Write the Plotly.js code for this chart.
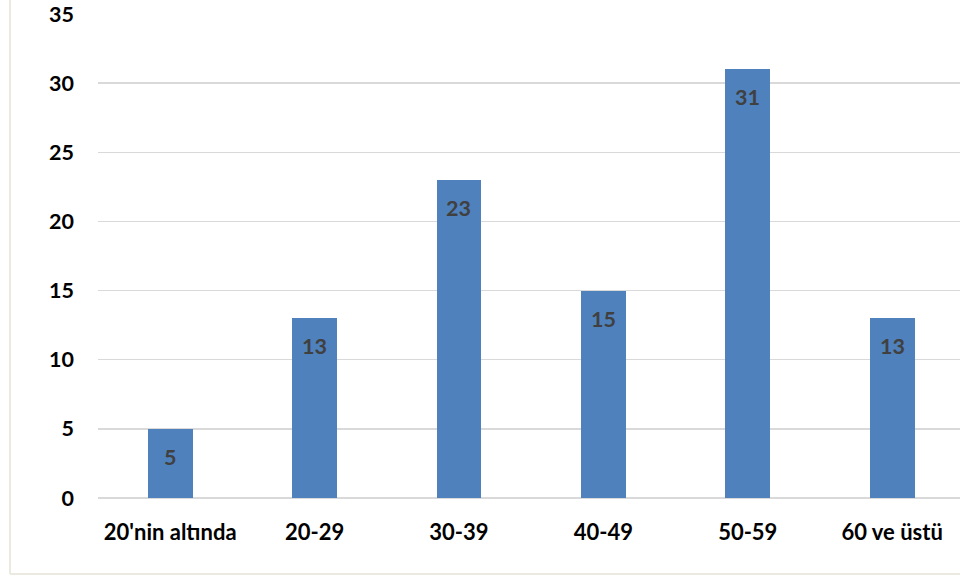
<!DOCTYPE html>
<html>
<head>
<meta charset="utf-8">
<script src="https://cdn.plot.ly/plotly-3.0.1.min.js"></script>
<style>html,body{margin:0;padding:0;background:#fff;}#chart{width:960px;height:578px;}</style>
</head>
<body>
<div id="chart"></div>
<script>
const categories = ["20'nin altında", "20-29", "30-39", "40-49", "50-59", "60 ve üstü"];
const values = [5, 13, 23, 15, 31, 13];
const yTicks = [0, 5, 10, 15, 20, 25, 30, 35];

const FONT = 'Lato, "Open Sans", sans-serif';
const xs = categories.map((_, i) => i);

const trace = {
  type: 'bar',
  x: xs,
  y: values,
  width: 0.31,
  marker: { color: '#4F81BD', line: { width: 0 } },
  hoverinfo: 'none'
};

const annotations = values.map((v, i) => ({
  x: i, y: v, xref: 'x', yref: 'y',
  text: String(v), showarrow: false,
  yanchor: 'middle', yshift: -28,
  font: { family: FONT, size: 21.5, color: '#404040', weight: 'bold' }
}));

const layout = {
  width: 960, height: 578,
  margin: { l: 98, r: 0, t: 14, b: 80 },
  paper_bgcolor: '#ffffff', plot_bgcolor: '#ffffff',
  showlegend: false,
  bargap: 0,
  annotations: annotations,
  xaxis: {
    range: [-0.5, 5.47],
    tickmode: 'array', tickvals: xs, ticktext: categories,
    showgrid: false, zeroline: false, showline: false,
    ticks: '', ticklabelstandoff: 19,
    tickfont: { family: FONT, size: 22, color: '#000000', weight: 'bold' },
    fixedrange: true
  },
  yaxis: {
    range: [0, 35],
    tickmode: 'array', tickvals: yTicks, ticktext: yTicks.map(String),
    showgrid: true, gridcolor: '#d9d9d9', gridwidth: 1.5,
    zeroline: true, zerolinecolor: '#d9d9d9', zerolinewidth: 1.5,
    showline: false, ticks: '', ticklabelstandoff: 23,
    tickfont: { family: FONT, size: 21.5, color: '#000000', weight: 'bold' },
    fixedrange: true
  },
  shapes: [
    { type: 'line', xref: 'paper', yref: 'paper', x0: -88/862, x1: -88/862, y0: 1 + 14/484, y1: -76/484, line: { color: '#ECEAE0', width: 2 } },
    { type: 'line', xref: 'paper', yref: 'paper', x0: -88/862, x1: 1, y0: -76/484, y1: -76/484, line: { color: '#ECEAE0', width: 2 } }
  ]
};

Plotly.newPlot('chart', [trace], layout, { staticPlot: true, displayModeBar: false });
</script>
</body>
</html>
